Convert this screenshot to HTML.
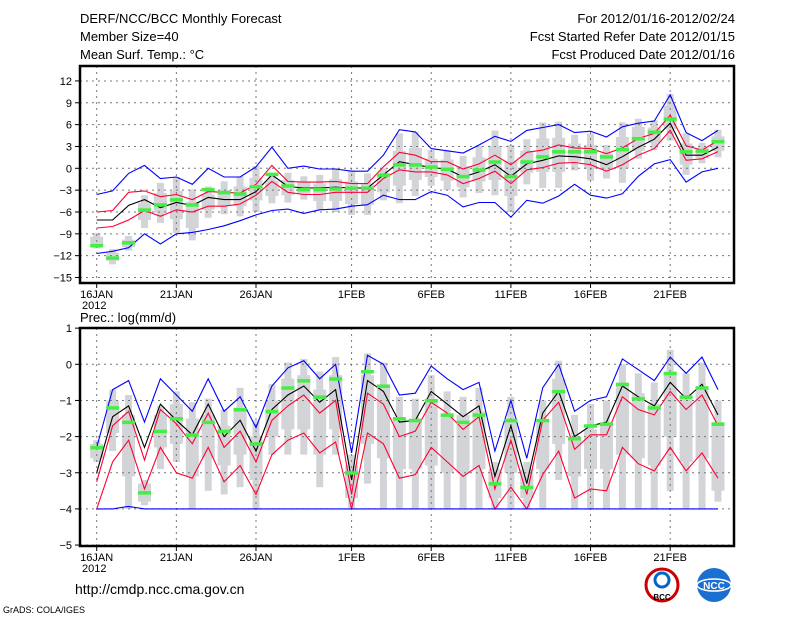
<!DOCTYPE html>
<html><head><meta charset="utf-8"><style>
body{margin:0;background:#fff;}
svg text{font-family:"Liberation Sans",sans-serif;fill:#000;}
</style></head><body>
<svg id="c" width="800" height="618" viewBox="0 0 800 618" xmlns="http://www.w3.org/2000/svg">
<text x="80" y="23" font-size="13">DERF/NCC/BCC Monthly Forecast</text>
<text x="80" y="41" font-size="13">Member Size=40</text>
<text x="80" y="59" font-size="13">Mean Surf. Temp.: °C</text>
<text x="735" y="23" font-size="13" text-anchor="end">For 2012/01/16-2012/02/24</text>
<text x="735" y="41" font-size="13" text-anchor="end">Fcst Started Refer Date 2012/01/15</text>
<text x="735" y="59" font-size="13" text-anchor="end">Fcst Produced Date 2012/01/16</text>
<text x="80" y="322" font-size="13">Prec.: log(mm/d)</text>
<text x="75" y="594" font-size="14">http://cmdp.ncc.cma.gov.cn</text>
<text x="3" y="613" font-size="9">GrADS: COLA/IGES</text>
<g><circle cx="662" cy="585" r="16" fill="#fff" stroke="#c00" stroke-width="3"/><circle cx="662" cy="580" r="7" fill="none" stroke="#06c" stroke-width="3"/><text x="662" y="600" font-size="8" text-anchor="middle" font-weight="bold">BCC</text></g>
<g><circle cx="714" cy="585" r="17" fill="#1a6fd0"/><ellipse cx="714" cy="585" rx="17" ry="6" fill="none" stroke="#fff" stroke-width="1.5"/><text x="714" y="589" font-size="10" text-anchor="middle" fill="#fff" style="fill:#fff" font-weight="bold">NCC</text></g>
<g id="top"></g><g id="bot"></g>
</svg>
<script>
const days=40;
const xLabels=["16JAN","21JAN","26JAN","1FEB","6FEB","11FEB","16FEB","21FEB"];
const xLabelDays=[0,5,10,16,21,26,31,36];
const topTicks=[12,9,6,3,0,-3,-6,-9,-12,-15];
const botTicks=[1,0,-1,-2,-3,-4,-5];
const tMax=[-3.6,-3.1,-0.7,0.4,-1.4,-1.2,-2.2,0,-1.2,-1.2,0.2,2.9,0,0.3,-0.1,-0.1,-0.4,-0.4,1.8,5.3,5.0,2.7,2.4,2.1,3.2,4.4,3.7,5.2,5.6,6.0,4.9,5.1,4.3,5.7,6.2,6.5,10.1,4.9,3.8,5.2];
const tUp=[-6.0,-5.8,-3.3,-3.1,-3.9,-3.6,-4.3,-3.2,-3.3,-3.4,-2.2,0.4,-1.8,-1.9,-1.9,-1.8,-2.1,-2.1,0.2,2.2,1.8,0.9,0.9,-0.1,0.6,1.8,0.5,2.2,2.5,3.2,2.8,2.7,2.0,2.8,4.1,4.8,7.3,3.1,2.5,3.8];
const tMean=[-7.1,-7.1,-5.1,-4.3,-5.4,-4.7,-5.1,-4.0,-4.3,-4.3,-3.2,-0.9,-2.5,-2.7,-2.7,-2.6,-2.7,-2.7,-0.9,0.9,0.5,0.1,-0.1,-1.2,-0.5,0.5,-1.1,0.6,1.1,1.7,1.6,1.3,0.5,1.6,2.9,4.0,6.2,1.8,1.8,2.9];
const tLow=[-8.2,-8.0,-7.1,-5.8,-6.6,-5.7,-6.0,-5.2,-5.2,-4.9,-3.7,-1.8,-3.3,-3.6,-3.6,-3.3,-3.3,-3.3,-1.4,-0.2,-0.5,-0.5,-0.9,-2.1,-1.4,-0.4,-2.1,-0.2,0.1,0.7,0.8,0.5,-0.4,0.5,1.8,2.7,5.2,1.1,1.3,2.3];
const tMin=[-11.7,-11.4,-10.9,-9.0,-10.4,-9.0,-8.8,-8.4,-7.9,-7.2,-6.4,-5.8,-5.6,-6.2,-5.7,-5.6,-5.2,-5.0,-3.7,-4.3,-4.3,-3.2,-3.7,-5.3,-4.7,-4.7,-6.7,-4.4,-4.8,-3.8,-2.2,-3.7,-4.1,-3.5,-1.1,0.6,1.2,-1.9,-0.5,0.0];
const tObs=[-10.6,-12.3,-10.2,-5.7,-5.0,-4.3,-5.0,-2.9,-3.3,-3.5,-2.5,-0.8,-2.4,-2.9,-2.9,-2.8,-2.7,-2.7,-0.9,0.5,0.5,0.2,-0.1,-1.1,-0.2,0.9,-1.1,0.9,1.6,2.3,2.3,2.3,1.6,2.6,4.1,5.0,6.8,2.3,2.4,3.7];
const tWhHi=[-8.9,-11.1,-9.3,-3.7,-2.0,-1.2,-2.9,-2.5,-1.8,-1.1,0.3,-0.7,-0.6,-1.1,-0.9,0,-0.3,-0.7,0,4.8,5.0,2.5,2.5,1.7,3.1,5.2,3.2,4.0,6.3,6.4,4.6,4.8,3.2,6.3,6.8,6.6,10.2,4.8,3.5,5.3];
const tWhLo=[-11.0,-13.2,-11.3,-8.2,-7.5,-8.9,-9.9,-6.8,-6.3,-6.6,-6.0,-4.8,-4.7,-4.3,-5.7,-6.0,-6.4,-6.4,-4.4,-4.8,-3.8,-2.4,-3.0,-4.0,-3.4,-3.7,-6.0,-2.2,-2.7,-2.7,-0.3,-1.7,-1.4,-2.0,1.3,2.5,3.8,-0.9,0.7,1.5];
const tBoxHi=[-9.4,-11.6,-9.8,-4.8,-3.4,-3.1,-4.6,-3.6,-3.0,-2.5,-1.3,-1.7,-1.6,-1.9,-2.1,-1.5,-1.8,-2.1,-1.1,2.4,2.8,1.3,1.2,0.3,1.5,3.1,1.0,2.4,4.1,4.2,3.4,3.2,2.0,4.3,5.7,5.6,8.6,3.4,2.8,4.4];
const tBoxLo=[-10.6,-12.7,-10.8,-7.1,-6.1,-7.0,-8.2,-5.7,-5.1,-5.2,-4.4,-3.8,-3.7,-3.5,-4.5,-4.5,-4.9,-5.0,-3.3,-2.4,-1.6,-1.2,-1.7,-2.6,-1.8,-1.6,-3.8,-0.6,-0.5,-0.5,0.9,-0.1,-0.2,0.0,2.4,3.5,5.4,0.5,1.4,2.4];
const pMax=[-2.3,-0.7,-0.45,-1.6,-0.4,-0.85,-1.3,-0.4,-1.3,-0.9,-1.75,-0.6,-0.1,0.1,-0.4,0,-2.45,0.25,0,-0.85,-0.8,-0.05,-0.4,-0.7,-0.5,-2.4,-1.0,-2.6,-0.65,0,-1.3,-1.0,-0.9,0.15,-0.15,-0.45,0.2,-0.25,0.2,-0.7];
const pUp=[-3.25,-1.7,-1.3,-2.65,-1.25,-1.65,-2.2,-1.35,-2.3,-1.85,-2.7,-1.55,-1.15,-0.85,-1.35,-1.0,-3.6,-0.8,-1.1,-2.0,-1.85,-1.05,-1.35,-1.8,-1.45,-3.45,-2.1,-3.6,-1.55,-1.05,-2.35,-1.95,-1.95,-0.9,-1.25,-1.4,-0.75,-1.25,-0.85,-1.7];
const pMean=[-3.0,-1.45,-1.15,-2.3,-1.1,-1.55,-1.95,-1.1,-2.0,-1.55,-2.4,-1.25,-0.85,-0.6,-1.05,-0.7,-3.2,-0.45,-0.75,-1.6,-1.55,-0.75,-1.1,-1.45,-1.15,-3.1,-1.7,-3.3,-1.35,-0.75,-2.0,-1.7,-1.6,-0.6,-0.9,-1.15,-0.5,-0.95,-0.55,-1.4];
const pLow=[-4.0,-2.7,-2.1,-3.45,-2.3,-3.0,-3.15,-2.3,-3.25,-2.8,-3.6,-2.5,-2.1,-1.9,-2.45,-2.15,-4.0,-1.9,-2.2,-3.15,-3.05,-2.3,-2.7,-3.1,-2.8,-4.0,-3.4,-4.0,-3.05,-2.4,-3.7,-3.45,-3.5,-2.3,-2.75,-2.95,-2.3,-2.95,-2.45,-3.15];
const pMin=[-4,-4,-3.93,-4,-4,-4,-4,-4,-4,-4,-4,-4,-4,-4,-4,-4,-4,-4,-4,-4,-4,-4,-4,-4,-4,-4,-4,-4,-4,-4,-4,-4,-4,-4,-4,-4,-4,-4,-4,-4];
const pObs=[-2.3,-1.2,-1.6,-3.55,-1.85,-1.5,-1.95,-1.6,-1.85,-1.25,-2.2,-1.3,-0.65,-0.45,-0.9,-0.4,-3.0,-0.2,-0.6,-1.5,-1.55,-1.0,-1.4,-1.6,-1.4,-3.3,-1.55,-3.4,-1.55,-0.75,-2.05,-1.7,-1.65,-0.55,-0.95,-1.2,-0.25,-0.9,-0.65,-1.65];
const pWhHi=[-2.1,-0.7,-0.85,-3.2,-1.15,-0.75,-1.05,-0.95,-1.25,-0.65,-1.55,-0.55,0.05,0.15,-0.2,0.2,-2.5,0.3,0.05,-0.9,-0.95,-0.3,-0.75,-0.9,-0.65,-2.7,-0.9,-2.7,-1.0,0.1,-1.4,-1.1,-1.0,0.0,-0.25,-0.5,0.4,-0.25,0.05,-1.0];
const pWhLo=[-2.7,-2.4,-4,-3.9,-2.9,-2.7,-4,-3.5,-3.6,-3.4,-4,-2.5,-2.5,-2.5,-3.4,-2.5,-4,-3.3,-4,-4,-4,-4,-4,-4,-4,-4,-4,-4,-4,-3.2,-4,-4,-4,-4,-4,-4,-3.5,-4,-4,-3.8];
const pBoxHi=[-2.2,-1.0,-1.4,-3.3,-1.4,-1.1,-1.5,-1.4,-1.7,-1.2,-2.0,-1.0,-0.4,-0.3,-0.7,-0.3,-2.8,-0.3,-0.6,-1.5,-1.5,-1.0,-1.4,-1.4,-1.3,-2.9,-1.5,-2.9,-1.6,-0.4,-2.0,-1.8,-1.6,-0.6,-0.8,-1.1,-0.2,-0.9,-0.6,-1.6];
const pBoxLo=[-2.6,-1.9,-3.1,-3.8,-2.3,-2.2,-3.1,-2.6,-2.8,-2.5,-3.2,-2.0,-1.8,-1.8,-2.5,-1.8,-3.7,-2.2,-2.6,-2.9,-2.9,-2.8,-3.0,-3.0,-2.9,-3.7,-3.0,-3.7,-2.9,-2.2,-3.1,-2.9,-2.9,-2.5,-2.6,-2.8,-2.0,-2.7,-2.6,-3.5];

const NS="http://www.w3.org/2000/svg";
const X0=80,X1=734;
function xs(d){return 96.7+15.93*d;}
function mk(parent,tag,attrs){const e=document.createElementNS(NS,tag);for(const k in attrs)e.setAttribute(k,attrs[k]);parent.appendChild(e);return e;}
function panel(g,name,top,bot,ys,ticks,series){
  // boxes
  for(let d=0;d<days;d++){
    const w=mk(g,'rect',{x:xs(d)-3.5,width:7,y:ys(series.whHi[d]),height:Math.max(1,ys(series.whLo[d])-ys(series.whHi[d])),fill:'#d3d4d8'});
    
    
    const b=mk(g,'rect',{x:xs(d)-6.5,width:13,y:ys(series.boxHi[d]),height:Math.max(1,ys(series.boxLo[d])-ys(series.boxHi[d])),fill:'#d3d4d8'});
    
    
  }
  // grid
  ticks.forEach(t=>{const y=ys(t);
    const l=mk(g,'line',{x1:X0,x2:X1,y1:y,y2:y,stroke:'#777','stroke-dasharray':'2,4','stroke-width':1});
    
    
    mk(g,'line',{x1:X0-5,x2:X0,y1:y,y2:y,stroke:'#000'});
    const tx=mk(g,'text',{x:X0-8,y:y+4,'font-size':11,'text-anchor':'end'});tx.textContent=(t<0?'\u2212'+(-t):t);
    
    
  });
  xLabelDays.forEach((d,i)=>{const x=xs(d);
    const l=mk(g,'line',{x1:x,x2:x,y1:top,y2:bot,stroke:'#777','stroke-dasharray':'2,4'});
    
    
    mk(g,'line',{x1:x,x2:x,y1:bot,y2:bot+5,stroke:'#000'});
    const tx=mk(g,'text',{x:x,y:bot+15,'font-size':11,'text-anchor':'middle'});tx.textContent=xLabels[i];
    
    
  });
  const yr=mk(g,'text',{x:82,y:bot+26,'font-size':11});yr.textContent='2012';
  
  
  const lines=[[series.max,'#0000ff','max'],[series.up,'#ff0033','upper'],[series.low,'#ff0033','lower'],[series.min,'#0000ff','min'],[series.mean,'#000','mean']];
  lines.forEach(([arr,c,n])=>{
    const p=mk(g,'polyline',{points:arr.map((v,d)=>xs(d).toFixed(1)+','+ys(v).toFixed(1)).join(' '),fill:'none',stroke:c,'stroke-width':1.1});
    
    
  });
  for(let d=0;d<days;d++){
    const o=mk(g,'rect',{x:xs(d)-6.5,width:13,y:ys(series.obs[d])-1.5,height:3.5,fill:'#44ee44'});
    
    
  }
  const f=mk(g,'rect',{x:X0,y:top,width:X1-X0,height:bot-top,fill:'none',stroke:'#000','stroke-width':2.5});
  
  
}
const yt=v=>168.3-7.28*v, yb=v=>364.3-36.15*v;
const gt=document.getElementById('top'),gb=document.getElementById('bot');




panel(gt,'temp',66,283,yt,topTicks,{max:tMax,up:tUp,mean:tMean,low:tLow,min:tMin,obs:tObs,whHi:tWhHi,whLo:tWhLo,boxHi:tBoxHi,boxLo:tBoxLo});
panel(gb,'prec',328,546,yb,botTicks,{max:pMax,up:pUp,mean:pMean,low:pLow,min:pMin,obs:pObs,whHi:pWhHi,whLo:pWhLo,boxHi:pBoxHi,boxLo:pBoxLo});
</script>
</body></html>
